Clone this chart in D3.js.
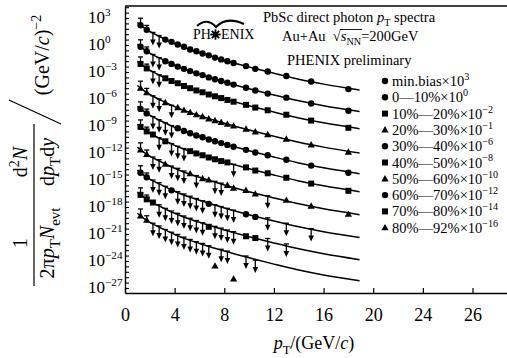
<!DOCTYPE html>
<html><head><meta charset="utf-8">
<script src="https://cdn.jsdelivr.net/npm/d3@7"></script>
<style>
body{margin:0;background:#fff}
svg{display:block}
text{font-family:"Liberation Serif","Times New Roman",serif;fill:#000}
</style>
</head><body>
<svg id="chart" width="507" height="358"></svg>
<script>
// ---------------- data ----------------
const pTBins = [1.25,1.75,2.25,2.75,3.25,3.75,4.25,4.75,5.25,5.75,6.25,6.75,7.25,7.75,8.25,8.75,9.75,10.5,11.5,13,15,18];
const fitPT = [1.0,1.5,2,3,4,5,6,8,10,12,14,16,18.9];

const yMinBias = [1.58e2,5.0e1,2.5e1,1.12e1,4.0,2.24,1.12,6.3e-1,3.16e-1,2.0e-1,1.12e-1,7.1e-2,4.0e-2,2.5e-2,1.58e-2,1.0e-2,4.5e-3,2.24e-3,1.12e-3,3.55e-4,8.9e-5,1.26e-5];
const y0_10 = [6.3e-1,2.0e-1,8.9e-2,4.0e-2,1.58e-2,7.9e-3,4.0e-3,2.24e-3,1.26e-3,7.1e-4,4.5e-4,2.5e-4,1.58e-4,1.0e-4,6.3e-5,4.0e-5,1.78e-5,8.9e-6,4.0e-6,1.41e-6,3.16e-7,5.0e-8];
const y10_20 = [7.9e-3,2.5e-3,1.12e-3,5.0e-4,2.0e-4,1.0e-4,5.6e-5,2.8e-5,1.58e-5,8.9e-6,5.6e-6,3.16e-6,2.0e-6,1.26e-6,7.9e-7,5.0e-7,2.24e-7,1.12e-7,5.6e-8,1.78e-8,4.0e-9,6.3e-10];
const y20_30 = [1.58e-5,5.0e-6,2.24e-6,1.0e-6,4.0e-7,2.0e-7,1.12e-7,5.6e-8,3.16e-8,1.78e-8,1.12e-8,6.3e-9,4.0e-9,2.5e-9,1.58e-9,1.0e-9,4.5e-10,2.24e-10,1.12e-10,3.55e-11,7.9e-12,1.26e-12];
const y30_40 = [7.9e-8,2.5e-8,1.12e-8,5.0e-9,2.24e-9,1.12e-9,5.6e-10,2.8e-10,1.58e-10,8.9e-11,5.6e-11,3.16e-11,2.0e-11,1.26e-11,7.9e-12,5.0e-12,2.24e-12,1.12e-12,5.6e-13,1.78e-13,4.0e-14,6.3e-15];
const y40_50 = [7.9e-10,2.5e-10,1.12e-10,5.0e-11,2.0e-11,1.12e-11,5.6e-12,3.16e-12,1.58e-12,8.9e-13,5.6e-13,3.16e-13,2.0e-13,1.26e-13,8.9e-14,5.6e-14,2.5e-14,1.12e-14,5.6e-15,1.78e-15,4.0e-16,6.3e-17];
const y50_60 = [2.24e-12,7.1e-13,3.55e-13,1.78e-13,5.6e-14,3.55e-14,2.0e-14,1.0e-14,5.0e-15,3.16e-15,1.41e-15,1.0e-15,7.1e-16,4.5e-16,2.5e-16,1.26e-16,7.1e-17,2.8e-17,1.78e-17,5.6e-18,1.26e-18,1.58e-19];
const y60_70 = [6.3e-15,2.0e-15,1.0e-15,5.0e-16,2.0e-16,7.1e-17,5.0e-17,2.8e-17,1.58e-17,8.9e-18,5.0e-18,2.24e-18,1.78e-18,1.12e-18,7.1e-19,4.5e-19,1.58e-19,7.9e-20,6.3e-20,1.58e-20,4.0e-21,null];
const y70_80 = [2.24e-17,7.1e-18,3.16e-18,1.78e-18,7.1e-19,3.55e-19,2.0e-19,1.0e-19,5.6e-20,3.16e-20,1.78e-20,6.3e-21,7.1e-21,4.5e-21,2.8e-21,1.78e-21,5.6e-22,3.55e-22,3.16e-22,7.9e-23,null,null];
const y80_92 = [1.0e-19,3.55e-20,1.58e-20,7.9e-21,3.16e-21,1.58e-21,8.9e-22,4.5e-22,2.5e-22,1.41e-22,8.9e-23,5.0e-23,2.8e-25,2.0e-23,1.26e-23,1.0e-26,3.55e-24,1.26e-24,null,null,null,null];

// indices of pT bins that are upper limits (arrows)
const ulMinBias = [2,3];
const ul0_10 = [2,3];
const ul10_20 = [2,3];
const ul20_30 = [2,3,5];
const ul30_40 = [2,3,4,5];
const ul40_50 = [3,5,6,7,15];
const ul50_60 = [2,3,5,6,7,9,12,13,18];
const ul60_70 = [2,3,4,6,7,8,9,10,12,13,14,15,18,19,20];
const ul70_80 = [3,4,5,6,7,8,9,10,12,13,14,15,18,19];
const ul80_92 = [2,3,4,5,6,7,8,9,10,11,13,14,16,17];

// fit curves
const fitMinBias = [3.16e2,8.9e1,3.16e1,6.3,1.41,4.0e-1,1.41e-1,2.0e-2,3.55e-3,7.1e-4,1.58e-4,4.5e-5,1.0e-5];
const fit0_10 = [1.26,3.55e-1,1.26e-1,2.5e-2,5.6e-3,1.58e-3,5.6e-4,7.9e-5,1.41e-5,2.8e-6,6.3e-7,1.78e-7,4.0e-8];
const fit10_20 = [1.58e-2,4.5e-3,1.58e-3,3.16e-4,7.1e-5,2.0e-5,7.1e-6,1.0e-6,1.78e-7,3.55e-8,7.9e-9,2.24e-9,5.0e-10];
const fit20_30 = [3.16e-5,8.9e-6,3.16e-6,6.3e-7,1.41e-7,4.0e-8,1.41e-8,2.0e-9,3.55e-10,7.1e-11,1.58e-11,4.5e-12,1.0e-12];
const fit30_40 = [1.58e-7,4.5e-8,1.58e-8,3.16e-9,7.1e-10,2.0e-10,7.1e-11,1.0e-11,1.78e-12,3.55e-13,7.9e-14,2.24e-14,5.0e-15];
const fit40_50 = [1.58e-9,4.5e-10,1.58e-10,3.16e-11,7.1e-12,2.0e-12,7.1e-13,1.0e-13,1.78e-14,3.55e-15,7.9e-16,2.24e-16,5.0e-17];
const fit50_60 = [4.5e-12,1.26e-12,4.5e-13,8.9e-14,2.0e-14,5.6e-15,2.0e-15,2.8e-16,5.0e-17,1.0e-17,2.24e-18,6.3e-19,1.41e-19];
const fit60_70 = [1.26e-14,3.55e-15,1.26e-15,2.5e-16,5.6e-17,1.58e-17,5.6e-18,7.9e-19,1.41e-19,2.8e-20,6.3e-21,1.78e-21,4.0e-22];
const fit70_80 = [4.5e-17,1.26e-17,4.5e-18,8.9e-19,2.0e-19,5.6e-20,2.0e-20,2.8e-21,5.0e-22,1.0e-22,2.24e-23,6.3e-24,1.41e-24];
const fit80_92 = [2.0e-19,5.6e-20,2.0e-20,4.0e-21,8.9e-22,2.5e-22,8.9e-23,1.26e-23,2.24e-24,4.5e-25,1.0e-25,2.8e-26,6.3e-27];

const legendCent = ["min.bias","0—10%","10%—20%","20%—30%","30%—40%","40%—50%","50%—60%","60%—70%","70%—80%","80%—92%"];
const legendExp = ["3","0","−2","−1","−6","−8","−10","−12","−14","−16"];
const markerTypes = ["circle","circle","square","triangle","circle","square","triangle","circle","square","triangle"];

const xTickValues = [0,4,8,12,16,20,24,28];
const xTickLabels = ["0","4","8","12","16","20","24","26"];
const yLabelExps = [3,0,-3,-6,-9,-12,-15,-18,-21,-24,-27];

// asymmetric errors (multiplicative) drawn on the first two pT bins
const errUpFactor = [6, 3];
const errDownFactor = [1.6, 1.4];

const seriesVals = [yMinBias,y0_10,y10_20,y20_30,y30_40,y40_50,y50_60,y60_70,y70_80,y80_92];
const seriesUL = [ulMinBias,ul0_10,ul10_20,ul20_30,ul30_40,ul40_50,ul50_60,ul60_70,ul70_80,ul80_92];
const seriesFit = [fitMinBias,fit0_10,fit10_20,fit20_30,fit30_40,fit40_50,fit50_60,fit60_70,fit70_80,fit80_92];

// ---------------- drawing ----------------
const svg = d3.select("#chart");
const L = 125, R = 507, T = 6, B = 293;
const x = d3.scaleLinear().domain([0, 30.78]).range([L, R]);
const y = d3.scaleLog().domain([Math.pow(10,-27.556), Math.pow(10,4.333)]).range([B, T]);

function rich(g, px, py, runs, opt) {
  opt = opt || {};
  const size = opt.size || 14;
  const sf = opt.small || 0.7;
  const t = g.append("text").attr("x", px).attr("y", py)
    .attr("font-size", size).attr("text-anchor", opt.anchor || "start");
  let cur = 0;
  runs.forEach(r => {
    const ts = t.append("tspan").text(r.t);
    const shift = r.sup ? -size * 0.42 : (r.sub ? size * 0.3 : 0);
    if (shift !== cur) { ts.attr("dy", shift - cur); cur = shift; }
    if (r.sup || r.sub) ts.attr("font-size", size * sf);
    if (r.it) ts.attr("font-style", "italic");
  });
  return t;
}

// frame
svg.append("line").attr("x1", L).attr("x2", R).attr("y1", T).attr("y2", T)
  .attr("stroke", "#000").attr("stroke-width", 1.4);

// x axis
const xAxis = d3.axisBottom(x).tickValues(xTickValues)
  .tickFormat((d, i) => xTickLabels[i]).tickSizeInner(-5).tickSizeOuter(0).tickPadding(15);
const gx = svg.append("g").attr("transform", `translate(0,${B})`).call(xAxis);
gx.select(".domain").attr("stroke-width", 1.4);
gx.selectAll(".tick line").attr("stroke-width", 1.2);
gx.selectAll("text").attr("font-size", 18).attr("font-family", '"Liberation Serif",serif');

// y axis with inward ticks (every 0.6 decade)
const yTickVals = d3.range(0, 53).map(k => Math.pow(10, 4.2 - 0.6 * k)).filter(v => v >= y.domain()[0] && v <= y.domain()[1]);
const yAxis = d3.axisLeft(y).tickValues(yTickVals).tickFormat("").tickSizeInner(-4).tickSizeOuter(0);
const gy = svg.append("g").attr("transform", `translate(${L},0)`).call(yAxis);
gy.select(".domain").attr("stroke-width", 1.4);
gy.selectAll(".tick line").attr("stroke-width", 1.1);

yLabelExps.forEach(e => {
  const es = e < 0 ? "−" + (-e) : String(e);
  rich(svg, 88, y(Math.pow(10, e)) + 5.5, [{t: "10"}, {t: es, sup: true}], {size: 17, small: 0.66});
});

// marker helper
function marker(g, type, px, py) {
  if (type === "circle") g.append("circle").attr("cx", px).attr("cy", py).attr("r", 3.2).attr("fill", "#000");
  else if (type === "square") g.append("rect").attr("x", px - 3).attr("y", py - 3).attr("width", 6).attr("height", 6).attr("fill", "#000");
  else g.append("path").attr("d", `M${px},${py - 3.8}L${px + 3.6},${py + 2.6}L${px - 3.6},${py + 2.6}Z`).attr("fill", "#000");
}

const gData = svg.append("g");
const line = d3.line().x(d => x(d[0])).y(d => y(d[1])).curve(d3.curveMonotoneX);

seriesVals.forEach((vals, s) => {
  const fit = seriesFit[s].map((v, i) => [fitPT[i], v]);
  gData.append("path").attr("d", line(fit)).attr("fill", "none")
    .attr("stroke", "#000").attr("stroke-width", 1.5);
  vals.forEach((v, i) => {
    if (v == null) return;
    const px = x(pTBins[i]), py = y(v);
    if (seriesUL[s].includes(i)) {
      gData.append("line").attr("x1", px - 2.6).attr("x2", px + 2.6).attr("y1", py).attr("y2", py)
        .attr("stroke", "#000").attr("stroke-width", 1.3);
      gData.append("line").attr("x1", px).attr("x2", px).attr("y1", py).attr("y2", py + 9)
        .attr("stroke", "#000").attr("stroke-width", 1.3);
      gData.append("path").attr("d", `M${px - 2.8},${py + 7}L${px + 2.8},${py + 7}L${px},${py + 13}Z`).attr("fill", "#000");
    } else {
      if (i < errUpFactor.length) {
        const yu = y(v * errUpFactor[i]), yd = y(v / errDownFactor[i]);
        gData.append("line").attr("x1", px).attr("x2", px).attr("y1", yu).attr("y2", yd)
          .attr("stroke", "#000").attr("stroke-width", 1.3);
        gData.append("line").attr("x1", px - 2.5).attr("x2", px + 2.5).attr("y1", yu).attr("y2", yu)
          .attr("stroke", "#000").attr("stroke-width", 1.3);
      }
      marker(gData, markerTypes[s], px, py);
    }
  });
});

// legend
legendCent.forEach((c, i) => {
  const cy = 81 + i * 16.3;
  marker(svg, markerTypes[i], 385, cy);
  rich(svg, 392, cy + 5, [{t: c + "×10"}, {t: legendExp[i], sup: true}], {size: 14.5});
});

// header texts
rich(svg, 263, 21.5, [{t: "PbSc direct photon "}, {t: "p", it: true}, {t: "T", sub: true}, {t: " spectra"}], {size: 14.5});
const t2 = rich(svg, 282, 41, [{t: "Au+Au\u00a0\u00a0√"}, {t: "s", it: true}, {t: "NN", sub: true}, {t: "=200GeV"}], {size: 14.5});
{
  const n = t2.node();
  const x0 = n.getStartPositionOfChar(8).x, x1 = n.getEndPositionOfChar(10).x;
  svg.append("line").attr("x1", x0 - 1).attr("x2", x1 + 1).attr("y1", 29.5).attr("y2", 29.5)
    .attr("stroke", "#000").attr("stroke-width", 0.9);
}
rich(svg, 287, 64.5, [{t: "PHENIX preliminary"}], {size: 14.5});

// PHENIX logo
rich(svg, 193, 39, [{t: "PH"}], {size: 14});
rich(svg, 221, 39, [{t: "ENIX"}], {size: 14});
{
  const sx = 215.5, sy = 34.5;
  const gStar = svg.append("g");
  d3.range(8).forEach(k => {
    const a = k * Math.PI / 4;
    gStar.append("line").attr("x1", sx).attr("y1", sy)
      .attr("x2", sx + 5.2 * Math.cos(a)).attr("y2", sy + 5.2 * Math.sin(a))
      .attr("stroke", "#000").attr("stroke-width", 1.8);
  });
  gStar.append("circle").attr("cx", sx).attr("cy", sy).attr("r", 2.6).attr("fill", "#000");
  svg.append("path").attr("d", "M197,26 Q207,17 216,27 Q226,16 244,24")
    .attr("fill", "none").attr("stroke", "#000").attr("stroke-width", 2);
}

// x title
rich(svg, 314, 349, [{t: "p", it: true}, {t: "T", sub: true}, {t: "/(GeV/"}, {t: "c", it: true}, {t: ")"}], {size: 18, anchor: "middle"});

// y title (rotated)
const gt = svg.append("g").attr("transform", "rotate(-90)");
rich(gt, -243, 27, [{t: "1"}], {size: 20, anchor: "middle"});
gt.append("line").attr("x1", -286).attr("x2", -200).attr("y1", 34).attr("y2", 34).attr("stroke", "#000").attr("stroke-width", 1.2);
rich(gt, -243, 54, [{t: "2π"}, {t: "p", it: true}, {t: "T", sub: true}, {t: "N", it: true}, {t: "evt", sub: true}], {size: 20, anchor: "middle", small: 0.75});
rich(gt, -162, 27, [{t: "d"}, {t: "2", sup: true}, {t: "N", it: true}], {size: 20, anchor: "middle"});
gt.append("line").attr("x1", -200).attr("x2", -124).attr("y1", 34).attr("y2", 34).attr("stroke", "#000").attr("stroke-width", 1.2);
rich(gt, -162, 54, [{t: "d"}, {t: "p", it: true}, {t: "T", sub: true}, {t: "d"}, {t: "y", it: true}], {size: 20, anchor: "middle", small: 0.75});
gt.append("line").attr("x1", -124).attr("y1", 61).attr("x2", -100).attr("y2", 9).attr("stroke", "#000").attr("stroke-width", 1.2);
rich(gt, -55, 49, [{t: "(GeV/"}, {t: "c", it: true}, {t: ")"}, {t: "−2", sup: true}], {size: 20, anchor: "middle"});
</script>
</body></html>
